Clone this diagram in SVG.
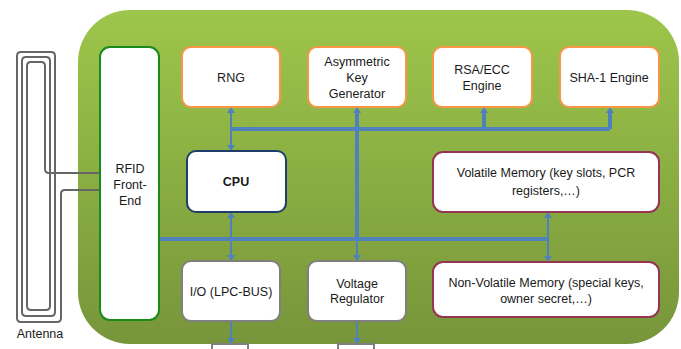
<svg xmlns="http://www.w3.org/2000/svg" width="681" height="349" viewBox="0 0 681 349">
<defs>
<linearGradient id="bg" x1="0" y1="0" x2="0" y2="1">
<stop offset="0" stop-color="#9dc64b"/>
<stop offset="1" stop-color="#77953a"/>
</linearGradient>
<marker id="ah" viewBox="0 0 6 8" markerWidth="6" markerHeight="8" refX="0" refY="4" orient="auto-start-reverse" markerUnits="userSpaceOnUse">
<path d="M0,0 L6,4 L0,8 z" fill="#4f81bd"/>
</marker>
</defs>
<style>
.box{fill:#fff;stroke-width:2}
.or{stroke:#f79646}
.gy{stroke:#7f7f7f}
.bl{stroke:#1f3d6b}
.mr{stroke:#953553}
.gr{stroke:#1a8a1a}
.t{font-family:"Liberation Sans",Arial,sans-serif;font-size:12.5px;fill:#1a1a1a;text-anchor:middle}
.bus{fill:none;stroke:#4f81bd;stroke-width:4}
.ln{fill:none;stroke:#4f81bd;stroke-width:2}
</style>
<rect x="78" y="10" width="601" height="334" rx="52" fill="url(#bg)"/>
<g id="antenna">
<path d="M100,190 H65 Q61,190 61,194 V318 Q61,322 57,322 H21 Q17,322 17,318 V56 Q17,52 21,52 H51 Q55,52 55,56 V312 Q55,316 51,316 H26 Q22,316 22,312 V61 Q22,57 26,57 H46 Q50,57 50,61 V306 Q50,310 46,310 H31 Q27,310 27,306 V66 Q27,62 31,62 H41 Q45,62 45,66 V169 Q45,173 49,173 H100" fill="none" stroke="#666" stroke-width="2"/>
<text class="t" x="40" y="338">Antenna</text>
</g>
<g id="connectors">
<path class="bus" d="M231,129 H610"/>
<path class="bus" d="M484,129 V113" marker-end="url(#ah)"/>
<path class="bus" d="M610,129 V113" marker-end="url(#ah)"/>
<path class="bus" d="M357,239 V113" marker-end="url(#ah)"/>
<path class="ln" d="M357,239 V255" marker-end="url(#ah)"/>
<path class="bus" d="M160,239 H548"/>
<path class="ln" d="M231,113 V145" marker-start="url(#ah)" marker-end="url(#ah)"/>
<path class="ln" d="M231,218 V255" marker-start="url(#ah)" marker-end="url(#ah)"/>
<path class="ln" d="M548,218 V256" marker-start="url(#ah)" marker-end="url(#ah)"/>
<path class="ln" d="M231,321 V338" marker-end="url(#ah)"/>
<path class="ln" d="M357,321 V338" marker-end="url(#ah)"/>
</g>
<g id="rfid">
<rect class="box gr" x="100" y="47" width="59" height="273" rx="10"/>
<text class="t" x="130" y="173">RFID</text>
<text class="t" x="130" y="189">Front-</text>
<text class="t" x="130" y="205">End</text>
</g>
<g id="rng">
<rect class="box or" x="182" y="47" width="98" height="60" rx="9"/>
<text class="t" x="231" y="82">RNG</text>
</g>
<g id="akg">
<rect class="box or" x="308" y="47" width="98" height="60" rx="9"/>
<text class="t" x="357" y="66">Asymmetric</text>
<text class="t" x="357" y="82">Key</text>
<text class="t" x="357" y="98">Generator</text>
</g>
<g id="rsa">
<rect class="box or" x="433" y="47" width="99" height="60" rx="9"/>
<text class="t" x="482" y="74">RSA/ECC</text>
<text class="t" x="482" y="90">Engine</text>
</g>
<g id="sha">
<rect class="box or" x="560" y="47" width="99" height="60" rx="9"/>
<text class="t" x="609" y="82">SHA-1 Engine</text>
</g>
<g id="cpu">
<rect class="box bl" x="187" y="151" width="99" height="61" rx="9"/>
<text class="t" x="236" y="186" font-weight="bold">CPU</text>
</g>
<g id="vmem">
<rect class="box mr" x="433" y="152" width="226" height="60" rx="10"/>
<text class="t" x="546" y="177">Volatile Memory (key slots, PCR</text>
<text class="t" x="546" y="195">registers,…)</text>
</g>
<g id="nvmem">
<rect class="box mr" x="433" y="262" width="226" height="55" rx="10"/>
<text class="t" x="546" y="287">Non-Volatile Memory (special keys,</text>
<text class="t" x="546" y="303">owner secret,…)</text>
</g>
<g id="io">
<rect class="box gy" x="182" y="261" width="98" height="60" rx="9"/>
<text class="t" x="231" y="296">I/O (LPC-BUS)</text>
</g>
<g id="vreg">
<rect class="box gy" x="308" y="261" width="98" height="60" rx="9"/>
<text class="t" x="357" y="288">Voltage</text>
<text class="t" x="357" y="303">Regulator</text>
</g>
<g id="out1">
<rect class="box gy" x="212" y="344" width="36" height="20"/>
</g>
<g id="out2">
<rect class="box gy" x="338" y="344" width="36" height="20"/>
</g>
</svg>
